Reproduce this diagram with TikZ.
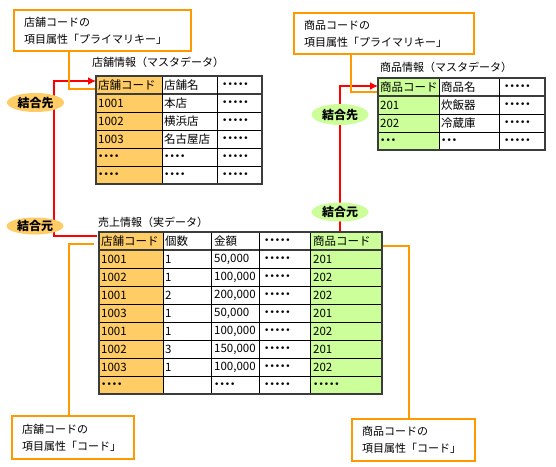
\documentclass[tikz,border=0pt]{standalone}
\usepackage{fontspec}
\setmainfont{Noto Sans CJK JP}
\newfontfamily\dotfont{DejaVu Sans}
\newcommand{\dotrow}[1]{{\dotfont\fontsize{9}{9}\selectfont #1}}
\usetikzlibrary{arrows.meta,shapes.geometric}
\definecolor{orng}{RGB}{255,153,0}
\definecolor{codeor}{RGB}{255,204,102}
\definecolor{codegr}{RGB}{204,255,153}
\definecolor{bord}{RGB}{60,60,60}
\tikzset{
 cell/.style={anchor=west, inner sep=0pt, font=\fontsize{11.5}{12}\selectfont},
 ttl/.style={anchor=west, inner sep=0pt, font=\fontsize{11}{12}\selectfont},
 callout/.style={draw=orng, line width=2.4pt, fill=white, anchor=north west, inner xsep=10pt, inner ysep=0pt, align=left, font=\fontsize{11}{17}\selectfont},
 joinline/.style={draw=red, line width=2pt},
 noteline/.style={draw=orng, line width=2pt},
 keyor/.style={ellipse, fill=codeor, minimum width=57pt, minimum height=19pt, inner sep=0pt, font=\fontsize{12}{12}\selectfont\bfseries},
 keygr/.style={keyor, fill=codegr},
 gridline/.style={line width=1pt, black},
 headline/.style={line width=1.6pt, bord},
 outer/.style={draw=bord, line width=2pt},
 tip/.style={-{Latex[length=8pt,width=8pt]}},
}
\begin{document}
\begin{tikzpicture}[x=1pt,y=-1pt]
\useasboundingbox (0,0) rectangle (556,466);

% ---------- connectors (drawn first, ellipses cover them) ----------
\coordinate (stIn) at (96,81);
\coordinate (slOut) at (97,236);
\coordinate (pmIn) at (378,86);
\coordinate (pcOut) at (340,231);
\draw[joinline,tip] (slOut) -- ++(-43,0) |- (stIn);
\draw[joinline,tip] (pcOut) |- (pmIn);

% ---------- store master table ----------
\node[ttl] (sttitle) at (92,62) {店舗情報（マスタデータ）};
\fill[codeor] (96,76) rectangle (162,184);
\foreach \yy in {112,130,148,166} \draw[gridline] (96,\yy) -- (262,\yy);
\draw[headline] (96,94) -- (262,94);
\foreach \xx in {162,217} \draw[gridline] (\xx,76) -- (\xx,184);
\draw[outer] (96,76) rectangle (262,184);
\foreach \a/\b/\c [count=\r] in {店舗コード/店舗名/\dotrow{•••••},1001/本店/\dotrow{•••••},1002/横浜店/\dotrow{•••••},1003/名古屋店/\dotrow{•••••},\dotrow{••••}/\dotrow{••••}/\dotrow{•••••},\dotrow{••••}/\dotrow{••••}/\dotrow{•••••}}{
  \node[cell] (st-\r-1) at (98,{67+18*\r}) {\a};
  \node[cell] (st-\r-2) at (164,{67+18*\r}) {\b};
  \node[cell] (st-\r-3) at (222,{67+18*\r}) {\c};
}

% ---------- product master table ----------
\node[ttl] (pmtitle) at (380,67) {商品情報（マスタデータ）};
\fill[codegr] (378,78) rectangle (439,150);
\foreach \yy in {114,132} \draw[gridline] (378,\yy) -- (545,\yy);
\draw[headline] (378,96) -- (545,96);
\foreach \xx in {439,499} \draw[gridline] (\xx,78) -- (\xx,150);
\draw[outer] (378,78) rectangle (545,150);
\foreach \a/\b/\c [count=\r] in {商品コード/商品名/\dotrow{•••••},201/炊飯器/\dotrow{•••••},202/冷蔵庫/\dotrow{•••••},\dotrow{•••}/\dotrow{•••}/\dotrow{•••••}}{
  \node[cell] (pm-\r-1) at (380,{69+18*\r}) {\a};
  \node[cell] (pm-\r-2) at (441,{69+18*\r}) {\b};
  \node[cell] (pm-\r-3) at (504,{69+18*\r}) {\c};
}

% ---------- sales table ----------
\node[ttl] (sltitle) at (98,222) {売上情報（実データ）};
\fill[codeor] (99,232) rectangle (163,394);
\fill[codegr] (310,232) rectangle (382,394);
\foreach \yy in {268,286,...,376} \draw[gridline] (99,\yy) -- (382,\yy);
\draw[headline] (99,250) -- (382,250);
\foreach \xx in {163,211,259,310} \draw[gridline] (\xx,232) -- (\xx,394);
\draw[outer] (99,232) rectangle (382,394);
\foreach \a/\b/\c/\d/\e [count=\r] in {{店舗コード}/{個数}/{金額}/{\dotrow{•••••}}/{商品コード},
 {1001}/{1}/{50,000}/{\dotrow{•••••}}/{201},
 {1002}/{1}/{100,000}/{\dotrow{•••••}}/{202},
 {1001}/{2}/{200,000}/{\dotrow{•••••}}/{202},
 {1003}/{1}/{50,000}/{\dotrow{•••••}}/{201},
 {1001}/{1}/{100,000}/{\dotrow{•••••}}/{202},
 {1002}/{3}/{150,000}/{\dotrow{•••••}}/{201},
 {1003}/{1}/{100,000}/{\dotrow{•••••}}/{202},
 {\dotrow{••••}}/{}/{\dotrow{••••}}/{\dotrow{•••••}}/{\dotrow{•••••}}}{
  \node[cell] (sl-\r-1) at (101,{223+18*\r}) {\a};
  \node[cell] (sl-\r-2) at (165,{223+18*\r}) {\b};
  \node[cell] (sl-\r-3) at (214,{223+18*\r}) {\c};
  \node[cell] (sl-\r-4) at (264,{223+18*\r}) {\d};
  \node[cell] (sl-\r-5) at (313,{223+18*\r}) {\e};
}

% ---------- join labels ----------
\node[keyor] (k1) at (35.5,102.5) {結合先};
\node[keyor, minimum height=17pt] (k2) at (35,226) {結合元};
\node[keygr, minimum height=21pt] (k3) at (340,114.5) {結合先};
\node[keygr] (k4) at (340,212) {結合元};

% ---------- orange note lines ----------
\coordinate (n1a) at (69,50);   \coordinate (n1b) at (95,89);
\coordinate (n2a) at (351,53);  \coordinate (n2b) at (377,92);
\coordinate (n3a) at (69,415);  \coordinate (n3b) at (94,244);
\coordinate (n4a) at (409,418); \coordinate (n4b) at (383,246);
\draw[noteline] (n1a) |- (n1b);
\draw[noteline] (n2a) |- (n2b);
\draw[noteline] (n3a) |- (n3b);
\draw[noteline] (n4a) |- (n4b);

% ---------- callouts ----------
\node[callout, minimum width=177pt, minimum height=41pt, text width=157pt] (n1) at (13,9) {店舗コードの\\項目属性「プライマリキー」};
\node[callout, minimum width=180pt, minimum height=41pt, text width=160pt] (n2) at (293,12) {商品コードの\\項目属性「プライマリキー」};
\node[callout, minimum width=122pt, minimum height=43pt, text width=102pt] (n3) at (11,415) {店舗コードの\\項目属性「コード」};
\node[callout, minimum width=123pt, minimum height=42pt, text width=103pt] (n4) at (351,418) {商品コードの\\項目属性「コード」};
\end{tikzpicture}
\end{document}
